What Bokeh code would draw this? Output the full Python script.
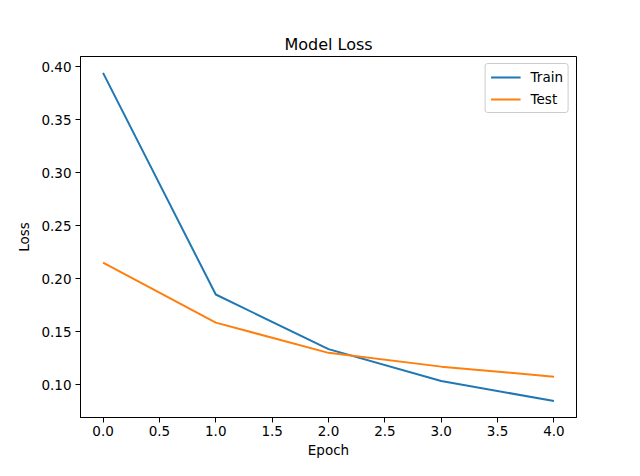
from bokeh.plotting import figure
from bokeh.models import Range1d, FixedTicker, Legend, LegendItem, NumeralTickFormatter
from bokeh.embed import file_html
from bokeh.resources import INLINE

epochs = [0, 1, 2, 3, 4]
train_loss = [0.3940, 0.1850, 0.1335, 0.1035, 0.0845]
test_loss = [0.2150, 0.1585, 0.1300, 0.1170, 0.1075]
x_ticks = [0.0, 0.5, 1.0, 1.5, 2.0, 2.5, 3.0, 3.5, 4.0]
y_ticks = [0.10, 0.15, 0.20, 0.25, 0.30, 0.35, 0.40]

FONT = "DejaVu Sans"

allv = train_loss + test_loss
lo, hi = min(allv), max(allv)
pad = 0.05 * (hi - lo)
xpad = 0.05 * (max(epochs) - min(epochs))

p = figure(width=624, height=460, output_backend="svg", toolbar_location=None,
           x_range=Range1d(min(epochs) - xpad, max(epochs) + xpad),
           y_range=Range1d(lo - pad, hi + pad),
           min_border_left=80, min_border_right=48, min_border_top=56, min_border_bottom=38)

p.title.text = "Model Loss"
p.title.align = "center"
p.title.text_font = FONT
p.title.text_font_size = "16px"
p.title.text_font_style = "normal"
p.title.text_color = "black"
p.title.standoff = 6

p.grid.visible = False
p.outline_line_color = "black"
p.outline_line_width = 1

for ax in (p.xaxis[0], p.yaxis[0]):
    ax.major_tick_out = 5
    ax.major_tick_in = 0
    ax.minor_tick_out = 0
    ax.minor_tick_in = 0
    ax.axis_line_color = "black"
    ax.major_label_text_font = FONT
    ax.major_label_text_font_size = "13.5px"
    ax.major_label_text_color = "black"
    ax.axis_label_text_font = FONT
    ax.axis_label_text_font_size = "13.5px"
    ax.axis_label_text_font_style = "normal"
    ax.axis_label_text_color = "black"

p.xaxis.ticker = FixedTicker(ticks=x_ticks)
p.yaxis.ticker = FixedTicker(ticks=y_ticks)
p.xaxis.formatter = NumeralTickFormatter(format="0.0")
p.yaxis.formatter = NumeralTickFormatter(format="0.00")
p.xaxis.axis_label = "Epoch"
p.yaxis.axis_label = "Loss"
p.xaxis.major_label_standoff = 3
p.yaxis.major_label_standoff = 4
p.xaxis.axis_label_standoff = 3
p.yaxis.axis_label_standoff = 6

r1 = p.line(epochs, train_loss, line_color="#1f77b4", line_width=2)
r2 = p.line(epochs, test_loss, line_color="#ff7f0e", line_width=2)

legend = Legend(items=[LegendItem(label="Train", renderers=[r1]),
                       LegendItem(label="Test", renderers=[r2])],
                location="top_right")
legend.label_text_font = FONT
legend.label_text_font_size = "13.5px"
legend.label_text_color = "black"
legend.border_line_color = "#cccccc"
legend.border_line_alpha = 1
legend.border_radius = 3
legend.glyph_width = 30
legend.glyph_height = 16
legend.label_height = 16
legend.spacing = 6
legend.padding = 5
legend.margin = 7
legend.label_standoff = 10
p.add_layout(legend)

open("out.html", "w").write(file_html(p, INLINE))
